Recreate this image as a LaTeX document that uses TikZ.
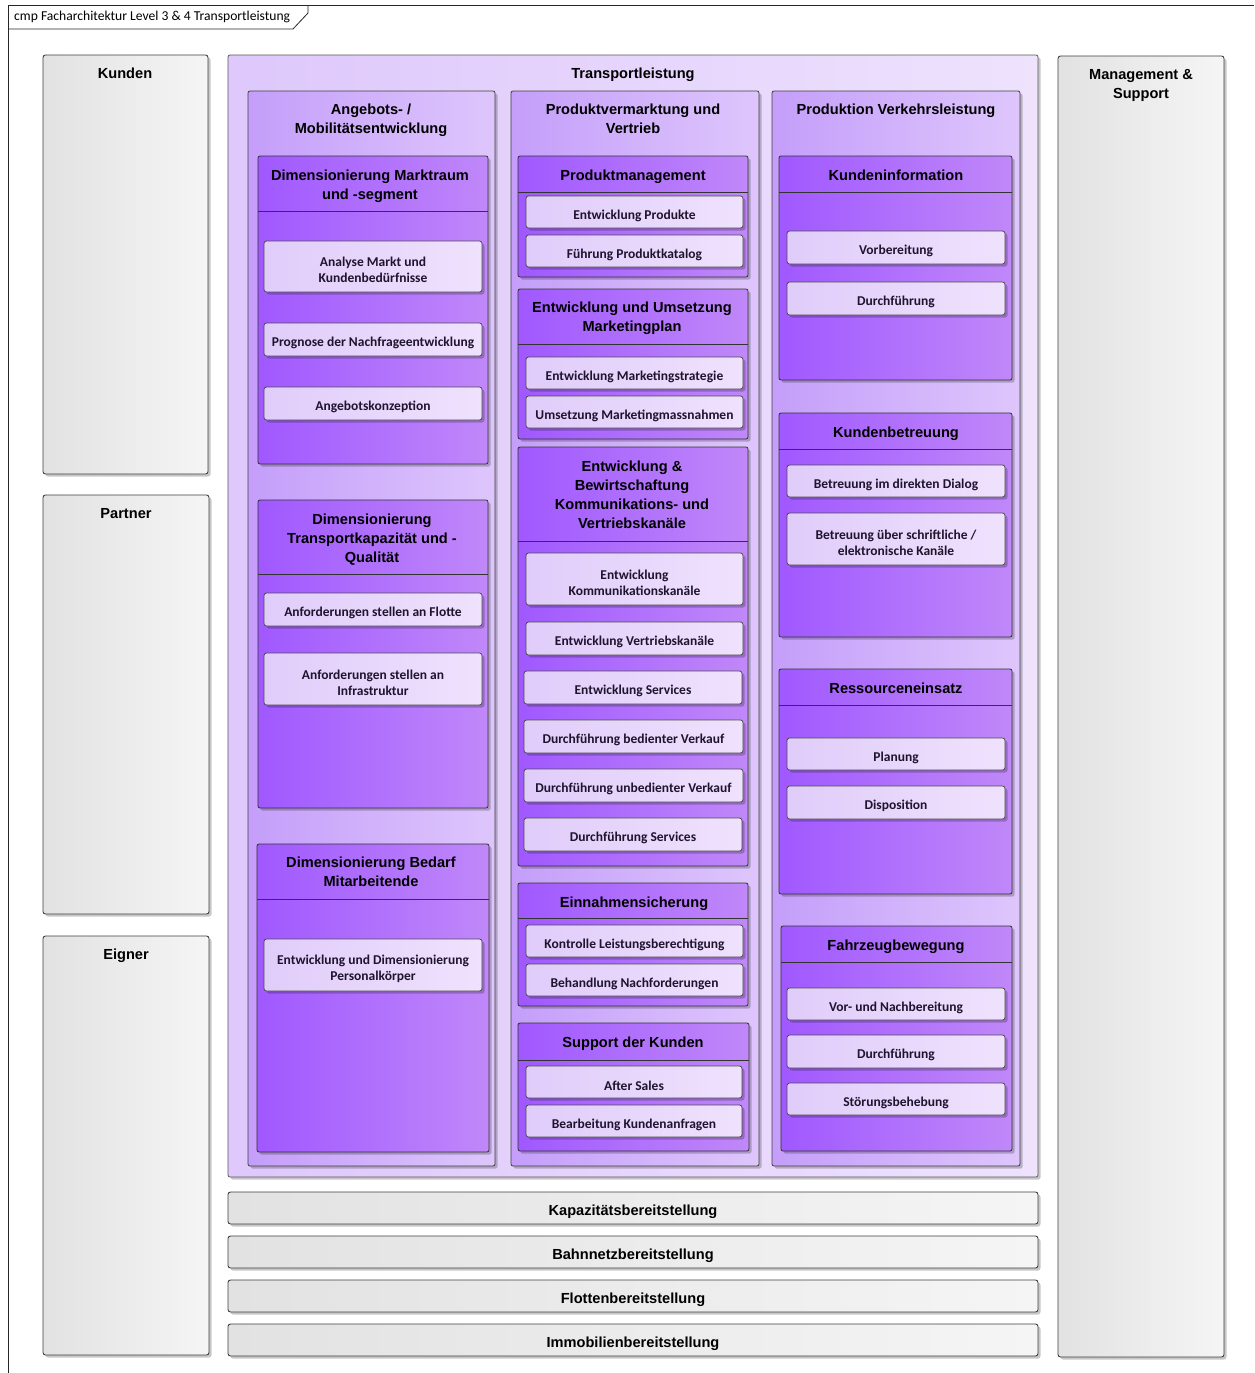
\documentclass[tikz,border=0pt]{standalone}
\usepackage{fontspec}
\setmainfont{Liberation Sans}
\newfontfamily\calfont{Carlito}
\usetikzlibrary{fit,shadows}
\definecolor{grayL}{RGB}{226,226,226}
\definecolor{grayR}{RGB}{245,245,245}
\definecolor{tlL}{RGB}{222,200,252}
\definecolor{tlR}{RGB}{238,226,253}
\definecolor{colL}{RGB}{196,158,250}
\definecolor{colR}{RGB}{222,198,252}
\definecolor{lthL}{RGB}{160,88,255}
\definecolor{lthR}{RGB}{192,136,249}
\definecolor{lfL}{RGB}{224,204,250}
\definecolor{lfR}{RGB}{239,226,253}
\definecolor{lfText}{RGB}{30,20,45}
% leaf box: name, x1, y1, x2, y2, text
\newcommand\leafbox[6]{%
  \node[leaf,fit={(#2,#3)(#4,#5)}] (#1) {};
  \node[lft,yshift=-3.5pt] (#1-t) at (#1.center) {#6};}
% bar box: name, x1, y1, x2, y2, text
\newcommand\barbox[6]{%
  \node[graybox,fit={(#2,#3)(#4,#5)}] (#1) {};
  \node[hdr,yshift=-3.5pt] (#1-t) at (#1.center) {#6};}
\begin{document}
\begin{tikzpicture}[x=1pt,y=-1pt,
  shbox/.style={drop shadow={shadow xshift=2.5pt,shadow yshift=-2.5pt,opacity=0.22,fill=black}},
  graybox/.style={draw=black!75,line width=0.9pt,rounded corners=2.5pt,left color=grayL,right color=grayR,shbox,inner sep=0pt},
  tlbox/.style={draw=black!65,line width=0.8pt,rounded corners=2pt,left color=tlL,right color=tlR,shbox,inner sep=0pt},
  colbox/.style={draw=black!75,line width=0.8pt,rounded corners=2pt,left color=colL,right color=colR,shbox,inner sep=0pt},
  lthbox/.style={draw=black!80,line width=0.8pt,rounded corners=2pt,left color=lthL,right color=lthR,shbox,inner sep=0pt},
  leaf/.style={draw=black!70,line width=0.8pt,rounded corners=2.5pt,left color=lfL,right color=lfR,shbox,inner sep=0pt},
  lft/.style={font=\calfont\bfseries\fontsize{13.5}{16}\selectfont,align=center,text=lfText,inner sep=0pt},
  hdr/.style={font=\bfseries\fontsize{14.6}{19}\selectfont,align=center,inner sep=0pt},
  band/.style={draw=black!80,line width=0.8pt},
  frameln/.style={draw=black!85,line width=0.8pt}
]
\useasboundingbox (0,0) rectangle (1254,1373);
\fill[white] (0,0) rectangle (1254,1373);
% diagram frame
\coordinate (fA) at (8,1373);
\coordinate (fB) at (8,5);
\coordinate (fC) at (1254,5);
\coordinate (tA) at (8,29);
\coordinate (tB) at (293,29);
\coordinate (tC) at (308,13);
\coordinate (tD) at (308,5);
\draw[frameln] (fA) -- (fB) -- (fC);
\draw[frameln] (tA) -- (tB) -- (tC) -- (tD);
\node[anchor=west,inner sep=0pt,font=\calfont\fontsize{13.6}{15}\selectfont] (ttl) at (14,17) {cmp Facharchitektur Level 3 \& 4 Transportleistung};

% gray side boxes
\node[graybox,fit={(43,55)(208,474)}] (kunden) {};
\node[hdr,anchor=north] (kunden-t) at (125,68) {Kunden};
\node[graybox,fit={(43,495)(209,914)}] (partner) {};
\node[hdr,anchor=north] (partner-t) at (126,508) {Partner};
\node[graybox,fit={(43,936)(209,1355)}] (eigner) {};
\node[hdr,anchor=north] (eigner-t) at (126,949) {Eigner};
\node[graybox,fit={(1058,56)(1224,1357)}] (mgmt) {};
\node[hdr,anchor=north] (mgmt-t) at (1141,69) {Management \&\\Support};

% bottom bars
\barbox{kap}{228}{1192}{1038}{1224}{Kapazitätsbereitstellung}
\barbox{bahn}{228}{1236}{1038}{1268}{Bahnnetzbereitstellung}
\barbox{flotte}{228}{1280}{1038}{1312}{Flottenbereitstellung}
\barbox{immo}{228}{1324}{1038}{1356}{Immobilienbereitstellung}

% Transportleistung
\node[tlbox,fit={(228,55)(1038,1177)}] (tl) {};
\node[hdr,anchor=north] (tl-t) at (633,68) {Transportleistung};

% columns
\node[colbox,fit={(248,91)(495,1166)}] (c1) {};
\node[hdr,anchor=north] (c1-t) at (371,104) {Angebots- /\\Mobilitätsentwicklung};
\node[colbox,fit={(511,91)(759,1166)}] (c2) {};
\node[hdr,anchor=north] (c2-t) at (633,104) {Produktvermarktung und\\Vertrieb};
\node[colbox,fit={(772,91)(1020,1166)}] (c3) {};
\node[hdr,anchor=north] (c3-t) at (896,104) {Produktion Verkehrsleistung};

% ---------- column 1
\node[lthbox,fit={(258,156)(488,464)}] (dm) {};
\draw[band] (258,211) -- (488,211);
\node[hdr,anchor=north] (dm-t) at (370,170) {Dimensionierung Marktraum\\und -segment};
\leafbox{dm1}{264}{241}{482}{292}{Analyse Markt und\\Kundenbedürfnisse}
\leafbox{dm2}{264}{323}{482}{356}{Prognose der Nachfrageentwicklung}
\leafbox{dm3}{264}{387}{482}{420}{Angebotskonzeption}

\node[lthbox,fit={(258,500)(488,808)}] (dt) {};
\draw[band] (258,574) -- (488,574);
\node[hdr,anchor=north] (dt-t) at (372,514) {Dimensionierung\\Transportkapazität und -\\Qualität};
\leafbox{dt1}{264}{593}{482}{626}{Anforderungen stellen an Flotte}
\leafbox{dt2}{264}{653}{482}{705}{Anforderungen stellen an\\Infrastruktur}

\node[lthbox,fit={(257,844)(489,1152)}] (db) {};
\draw[band] (257,899) -- (489,899);
\node[hdr,anchor=north] (db-t) at (371,857) {Dimensionierung Bedarf\\Mitarbeitende};
\leafbox{db1}{264}{939}{482}{991}{Entwicklung und Dimensionierung\\Personalkörper}

% ---------- column 2
\node[lthbox,fit={(518,156)(748,277)}] (pm) {};
\draw[band] (518,192) -- (748,192);
\node[hdr,anchor=north] (pm-t) at (633,170) {Produktmanagement};
\leafbox{pm1}{526}{196}{743}{228}{Entwicklung Produkte}
\leafbox{pm2}{526}{235}{743}{267}{Führung Produktkatalog}

\node[lthbox,fit={(518,289)(748,439)}] (mp) {};
\draw[band] (518,344) -- (748,344);
\node[hdr,anchor=north] (mp-t) at (632,302) {Entwicklung und Umsetzung\\Marketingplan};
\leafbox{mp1}{526}{357}{743}{389}{Entwicklung Marketingstrategie}
\leafbox{mp2}{526}{396}{743}{428}{Umsetzung Marketingmassnahmen}

\node[lthbox,fit={(518,447)(748,866)}] (kv) {};
\draw[band] (518,541) -- (748,541);
\node[hdr,anchor=north] (kv-t) at (632,461) {Entwicklung \&\\Bewirtschaftung\\Kommunikations- und\\Vertriebskanäle};
\leafbox{kv1}{526}{553}{743}{605}{Entwicklung\\Kommunikationskanäle}
\leafbox{kv2}{526}{622}{743}{655}{Entwicklung Vertriebskanäle}
\leafbox{kv3}{524}{671}{742}{704}{Entwicklung Services}
\leafbox{kv4}{524}{720}{743}{753}{Durchführung bedienter Verkauf}
\leafbox{kv5}{524}{769}{743}{802}{Durchführung unbedienter Verkauf}
\leafbox{kv6}{524}{818}{742}{851}{Durchführung Services}

\node[lthbox,fit={(518,883)(748,1006)}] (es) {};
\draw[band] (518,918) -- (748,918);
\node[hdr,anchor=north] (es-t) at (634,897) {Einnahmensicherung};
\leafbox{es1}{526}{925}{743}{957}{Kontrolle Leistungsberechtigung}
\leafbox{es2}{526}{964}{743}{996}{Behandlung Nachforderungen}

\node[lthbox,fit={(518,1023)(749,1151)}] (sk) {};
\draw[band] (518,1060) -- (749,1060);
\node[hdr,anchor=north] (sk-t) at (633,1037) {Support der Kunden};
\leafbox{sk1}{526}{1066}{742}{1098}{After Sales}
\leafbox{sk2}{526}{1105}{742}{1137}{Bearbeitung Kundenanfragen}

% ---------- column 3
\node[lthbox,fit={(779,156)(1012,380)}] (ki) {};
\draw[band] (779,192) -- (1012,192);
\node[hdr,anchor=north] (ki-t) at (896,170) {Kundeninformation};
\leafbox{ki1}{787}{231}{1005}{264}{Vorbereitung}
\leafbox{ki2}{787}{282}{1005}{315}{Durchführung}

\node[lthbox,fit={(779,413)(1012,637)}] (kb) {};
\draw[band] (779,449) -- (1012,449);
\node[hdr,anchor=north] (kb-t) at (896,427) {Kundenbetreuung};
\leafbox{kb1}{787}{465}{1005}{497}{Betreuung im direkten Dialog}
\leafbox{kb2}{787}{513}{1005}{565}{Betreuung über schriftliche /\\elektronische Kanäle}

\node[lthbox,fit={(779,669)(1012,894)}] (re) {};
\draw[band] (779,705) -- (1012,705);
\node[hdr,anchor=north] (re-t) at (896,683) {Ressourceneinsatz};
\leafbox{re1}{787}{738}{1005}{770}{Planung}
\leafbox{re2}{787}{786}{1005}{819}{Disposition}

\node[lthbox,fit={(781,926)(1012,1151)}] (fb) {};
\draw[band] (781,962) -- (1012,962);
\node[hdr,anchor=north] (fb-t) at (896,940) {Fahrzeugbewegung};
\leafbox{fb1}{787}{988}{1005}{1020}{Vor- und Nachbereitung}
\leafbox{fb2}{787}{1035}{1005}{1068}{Durchführung}
\leafbox{fb3}{787}{1083}{1005}{1115}{Störungsbehebung}
\end{tikzpicture}
\end{document}
